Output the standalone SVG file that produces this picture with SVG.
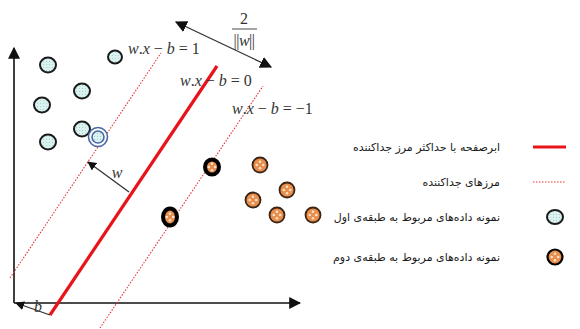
<svg xmlns="http://www.w3.org/2000/svg" width="580" height="329" viewBox="0 0 580 329">
<style>
.axis{stroke:#111;stroke-width:1.6;fill:none}
.hyper{stroke:#e8141a;stroke-width:3.2;fill:none;stroke-linecap:butt}
.margin{stroke:#e53535;stroke-width:1.1;stroke-dasharray:1.5 1.5;fill:none}
.vec{stroke:#333;stroke-width:1.3;fill:none}
.math{font-family:"Liberation Serif",serif;font-size:16px;fill:#333}
.it{font-style:italic}
.leg{font-family:"DejaVu Sans",sans-serif;font-size:11px;fill:#1a1a1a}
.c1{fill:url(#dots1);stroke:#1a1a1a;stroke-width:2}
.c2{fill:#e88f4e;stroke:#3a2414;stroke-width:1.8}
.c2b{fill:#e88f4e;stroke:#000;stroke-width:4}
</style>
<defs>
<pattern id="dots1" width="3" height="3" patternUnits="userSpaceOnUse">
<rect width="3" height="3" fill="#d9f1ef"/>
<circle cx="1.5" cy="1.5" r="0.5" fill="#9fc9c6"/>
</pattern>
<g id="spots">
<circle cx="0" cy="-3.2" r="1.3" fill="#fbe3cc"/>
<circle cx="0" cy="3.2" r="1.3" fill="#fbe3cc"/>
<circle cx="-3.2" cy="0" r="1.3" fill="#fbe3cc"/>
<circle cx="3.2" cy="0" r="1.3" fill="#fbe3cc"/>
</g>
<marker id="ah" viewBox="0 0 10 10" refX="9" refY="5" markerWidth="9" markerHeight="9" markerUnits="userSpaceOnUse" orient="auto-start-reverse">
<path d="M0,0 L10,5 L0,10 z" fill="#111"/>
</marker>
<marker id="ahBig" viewBox="0 0 10 10" refX="9" refY="5" markerWidth="12" markerHeight="12" markerUnits="userSpaceOnUse" orient="auto-start-reverse">
<path d="M0,0 L10,5 L0,10 z" fill="#111"/>
</marker>
</defs>
<rect width="580" height="329" fill="#fff"/>

<g id="connectors">
<line id="y-axis" class="axis" x1="14" y1="303" x2="14" y2="48" marker-end="url(#ahBig)"/>
<line id="x-axis" class="axis" x1="14" y1="303" x2="300" y2="303" marker-end="url(#ahBig)"/>
<line id="hyperplane" class="hyper" x1="50" y1="315" x2="217" y2="66"/>
<line id="margin-pos" class="margin" x1="10" y1="278" x2="161" y2="53"/>
<line id="margin-neg" class="margin" x1="100" y1="328" x2="263" y2="86"/>
<line id="w-vector" class="vec" x1="129" y1="192" x2="88" y2="162" marker-end="url(#ah)"/>
<line id="b-vector" class="vec" x1="50" y1="315" x2="16" y2="303" marker-end="url(#ah)"/>
<line id="margin-width" class="vec" x1="176" y1="22" x2="271" y2="67" marker-start="url(#ahBig)" marker-end="url(#ahBig)"/>
</g>

<g id="labels">
<text class="math" x="128" y="54"><tspan class="it">w</tspan>.<tspan class="it">x</tspan> − <tspan class="it">b</tspan> = 1</text>
<text class="math" x="180" y="86"><tspan class="it">w</tspan>.<tspan class="it">x</tspan> − <tspan class="it">b</tspan> = 0</text>
<text class="math" x="232" y="114"><tspan class="it">w</tspan>.<tspan class="it">x</tspan> − <tspan class="it">b</tspan> = −1</text>
<text class="math" x="244" y="24" text-anchor="middle">2</text>
<line x1="232" y1="29" x2="257" y2="29" stroke="#333" stroke-width="0.9"/>
<text class="math" x="244" y="46" text-anchor="middle" letter-spacing="-0.5">||<tspan class="it">w</tspan>||</text>
<text class="math it" x="117" y="178" text-anchor="middle">w</text>
<text class="math it" x="38" y="312" text-anchor="middle">b</text>
</g>

<g id="class1">
<ellipse class="c1" cx="48" cy="65" rx="8" ry="7.5"/>
<ellipse class="c1" cx="115" cy="57" rx="7" ry="6.5"/>
<ellipse class="c1" cx="82" cy="91" rx="8" ry="7.5"/>
<ellipse class="c1" cx="42" cy="105" rx="8" ry="7.5"/>
<ellipse class="c1" cx="82" cy="129" rx="8" ry="7.5"/>
<ellipse class="c1" cx="48" cy="142" rx="8" ry="7.5"/>
<g id="support-vector-1">
<circle cx="98" cy="137" r="9.5" fill="#fff" stroke="#4a67a6" stroke-width="1.6"/>
<circle cx="98" cy="137" r="6" fill="url(#dots1)" stroke="#4a67a6" stroke-width="1.6"/>
</g>
</g>

<g id="class2">
<g id="sv2a"><ellipse class="c2b" cx="212" cy="167" rx="7" ry="7.5"/><use href="#spots" x="212" y="167"/></g>
<g id="sv2b"><ellipse class="c2b" cx="170" cy="217" rx="7" ry="8.5"/><use href="#spots" x="170" y="217"/></g>
<g><circle class="c2" cx="260" cy="165" r="7.5"/><use href="#spots" x="260" y="165"/></g>
<g><circle class="c2" cx="287" cy="190" r="7.5"/><use href="#spots" x="287" y="190"/></g>
<g><circle class="c2" cx="253" cy="200" r="7.5"/><use href="#spots" x="253" y="200"/></g>
<g><circle class="c2" cx="277" cy="215" r="7.5"/><use href="#spots" x="277" y="215"/></g>
<g><circle class="c2" cx="313" cy="215" r="7.5"/><use href="#spots" x="313" y="215"/></g>
</g>

<g id="legend">
<g id="legend-hyperplane">
<line class="hyper" x1="533" y1="147" x2="566" y2="147"/>
<text class="leg" x="500" y="151" text-anchor="end">ابرصفحه با حداکثر مرز جداکننده</text>
</g>
<g id="legend-margin">
<line class="margin" x1="533" y1="182" x2="566" y2="182"/>
<text class="leg" x="500" y="186" text-anchor="end">مرزهای جداکننده</text>
</g>
<g id="legend-class1">
<ellipse class="c1" cx="555" cy="217" rx="8" ry="7"/>
<text class="leg" x="500" y="221" text-anchor="end">نمونه داده‌های مربوط به طبقه‌ی اول</text>
</g>
<g id="legend-class2">
<circle class="c2" cx="555" cy="257" r="7.5" style="stroke:#000;stroke-width:2.2"/>
<use href="#spots" x="555" y="257"/>
<text class="leg" x="500" y="261" text-anchor="end">نمونه داده‌های مربوط به طبقه‌ی دوم</text>
</g>
</g>
</svg>
